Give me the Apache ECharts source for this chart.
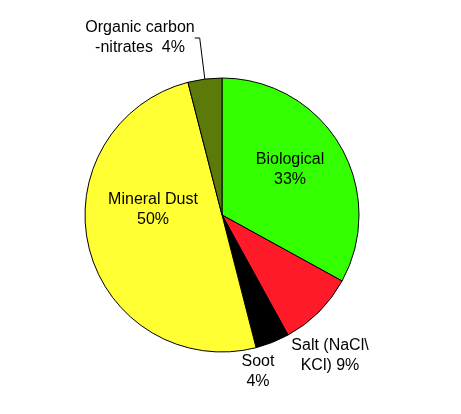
<!DOCTYPE html>
<html><head><meta charset="utf-8">
<script src="https://cdn.jsdelivr.net/npm/echarts@6/dist/echarts.min.js"></script>
<style>html,body{margin:0;background:#fff}#c{width:461px;height:414px}</style>
</head><body><div id="c"></div>
<script>
const names = ['Biological', 'Salt (NaCl\\\nKCl)', 'Soot', 'Mineral Dust', 'Organic carbon\n-nitrates'];
const values = [33, 9, 4, 50, 4];
const colors = ['#33ff00', '#ff1a2a', '#000000', '#ffff33', '#5c7a0a'];

var chart = echarts.init(document.getElementById('c'));
// label spots
var spots = {
    0: { x: 290, y: 170 },
    3: { x: 153, y: 210 },
    2: { x: 258, y: 372 },
    1: { x: 330, y: 356 },
    4: { x: 140, y: 38 }
};
var outside = { 1: 1, 2: 1, 4: 1 };
var txt = { fontFamily: 'Liberation Sans, Arial', fontSize: 16, color: '#000', lineHeight: 20 };
chart.setOption({
    animation: false,
    series: [{
        type: 'pie',
        center: [222, 215],
        radius: [0, 137],
        startAngle: 90,
        clockwise: true,
        itemStyle: { borderColor: '#000', borderWidth: 1 },
        data: names.map((n, i) => ({
            name: n, value: values[i],
            itemStyle: { color: colors[i] },
            label: Object.assign({
                show: true,
                position: outside[i] ? 'outside' : 'inside',
                formatter: i === 4 ? '{b}  {c}%' : (i === 1 ? '{b} {c}%' : '{b}\n{c}%')
            }, txt),
            labelLine: { show: i === 4, length: 5, length2: 5, lineStyle: { color: '#000', width: 1 } }
        })),
        labelLayout: function (p) {
            var o = spots[p.dataIndex];
            if (!o) return {};
            return { x: o.x, y: o.y, align: 'center', verticalAlign: 'middle' };
        }
    }]
});
</script></body></html>
